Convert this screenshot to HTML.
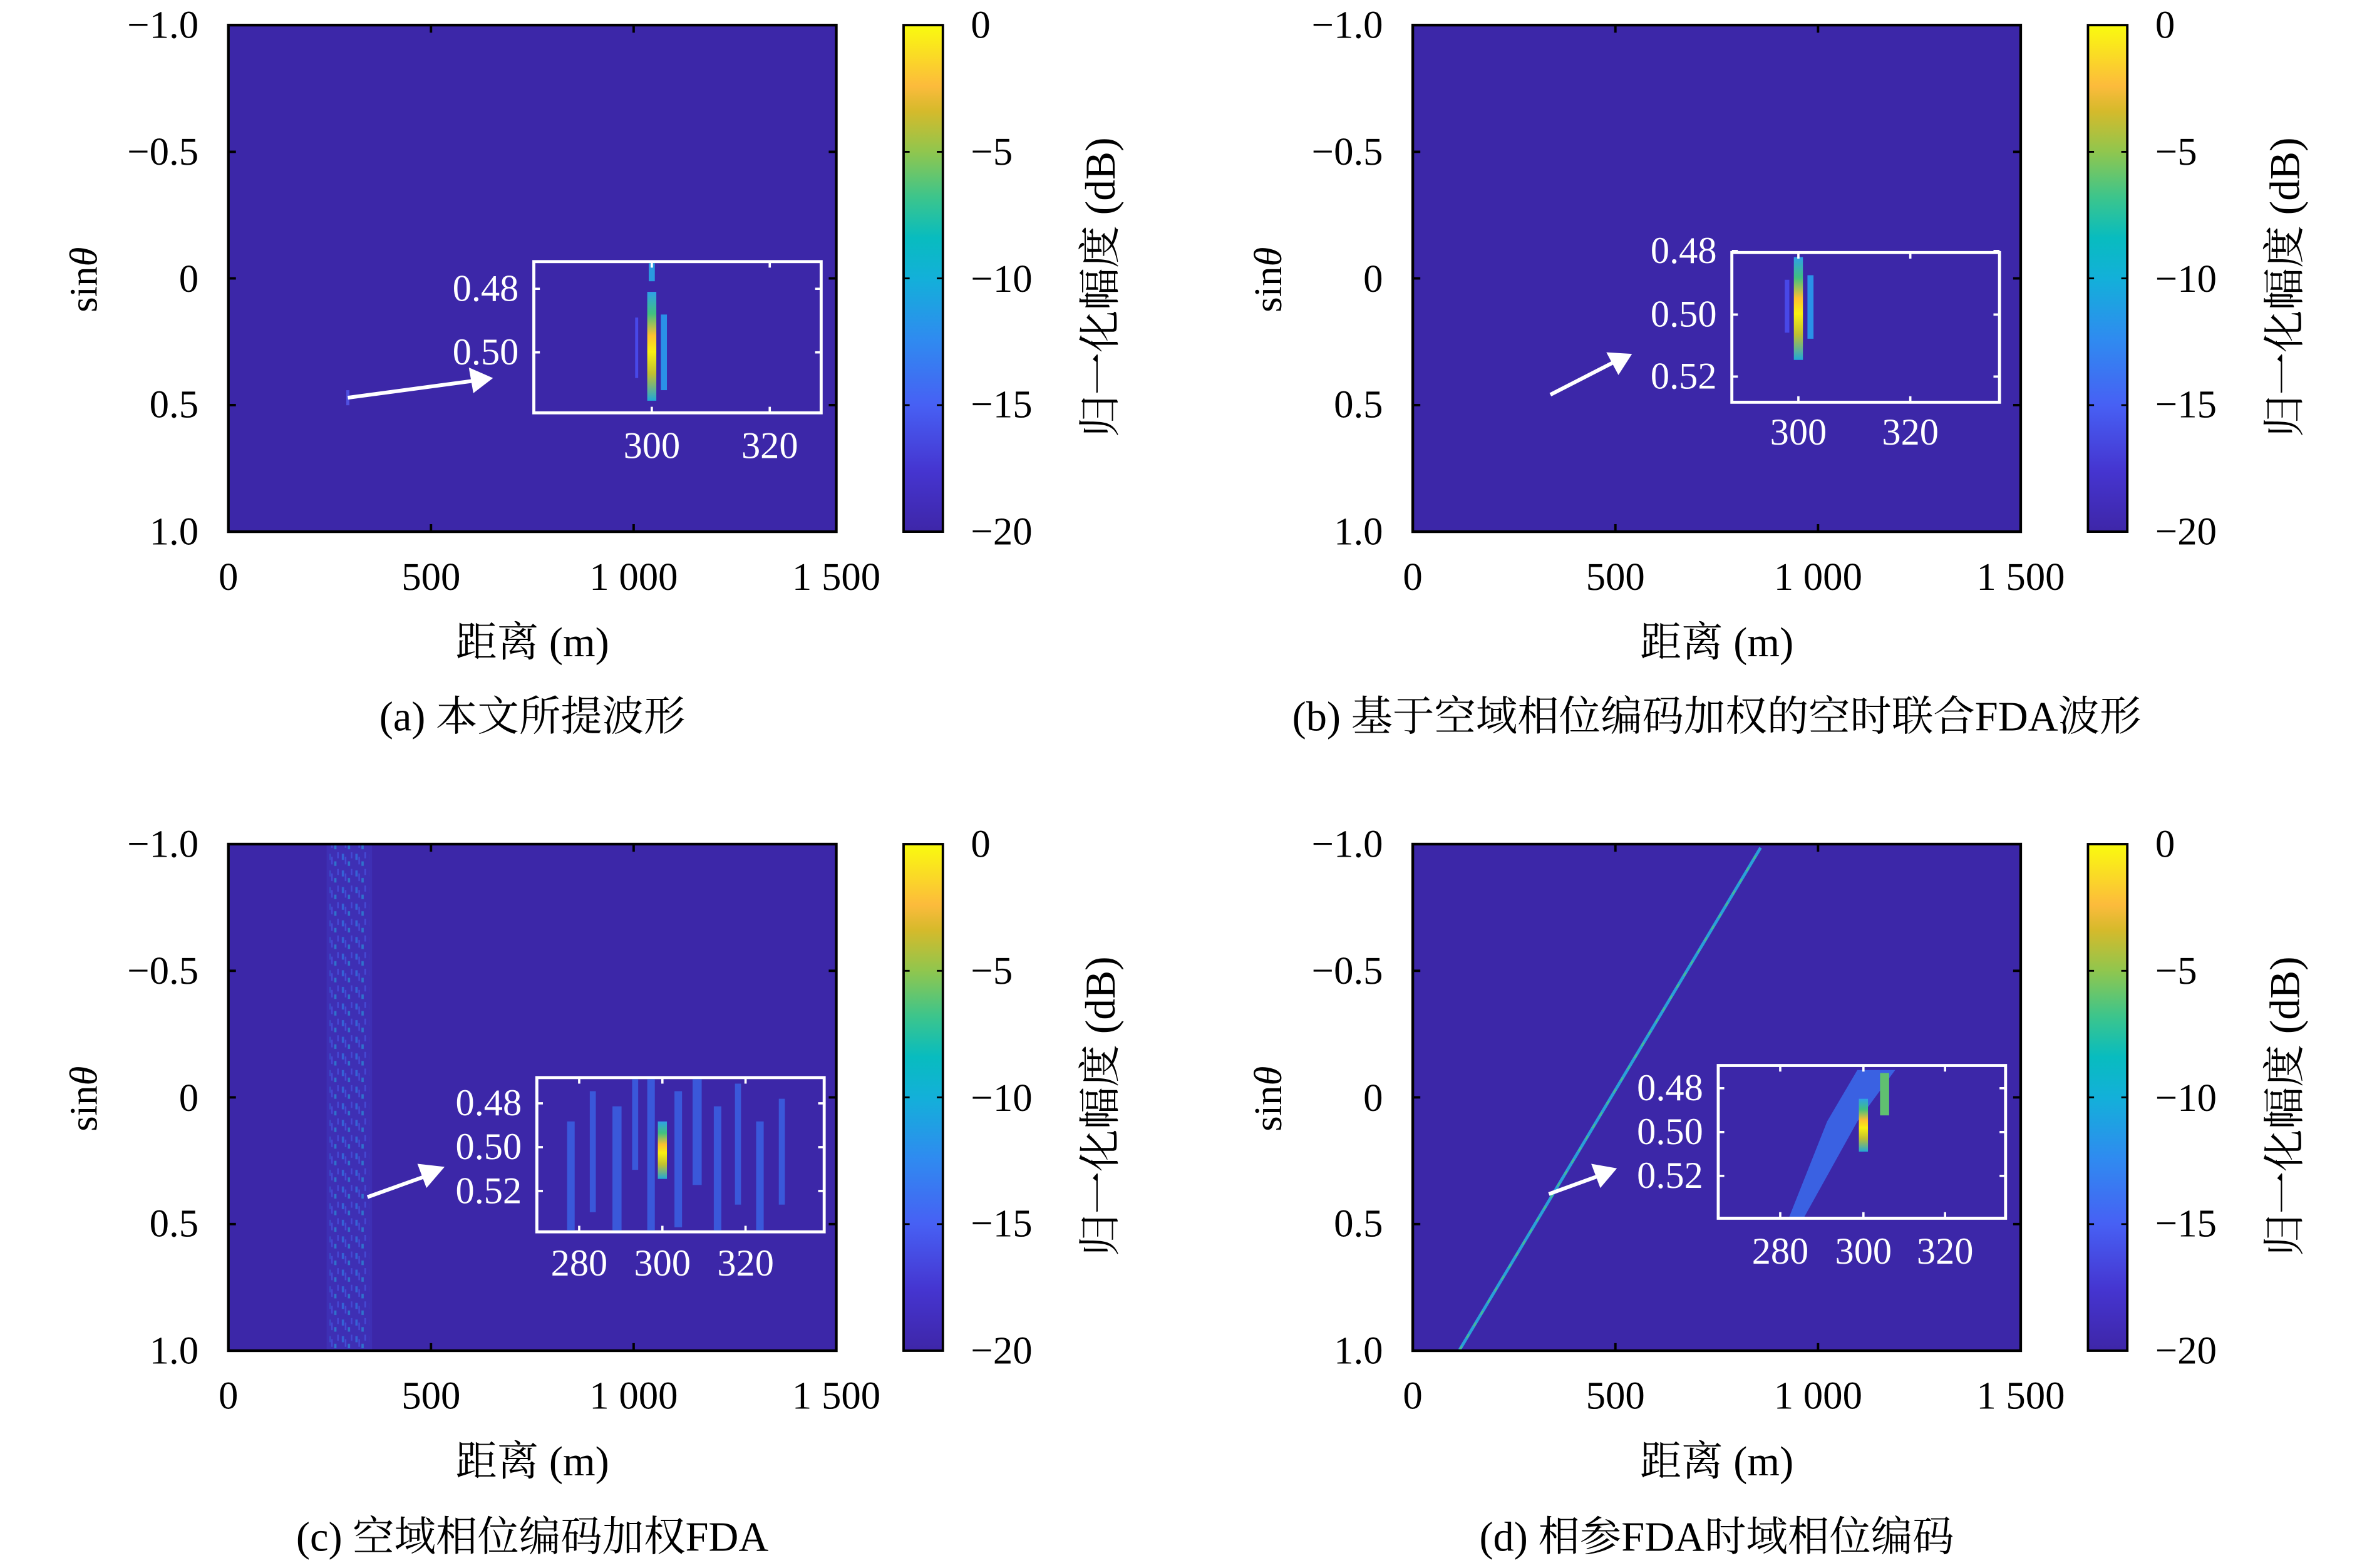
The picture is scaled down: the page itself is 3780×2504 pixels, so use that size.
<!DOCTYPE html>
<html><head><meta charset="utf-8">
<style>html,body{margin:0;padding:0;background:#fff}svg{display:block}
text{font-family:"Liberation Serif","Noto Serif CJK SC",serif;font-size:26px;fill:#000}
.w{fill:#fff;font-size:25px}
.cap{font-size:27.5px}
</style></head><body>
<svg width="3780" height="2504" viewBox="0 0 1565.2 1036.9" preserveAspectRatio="none" xmlns="http://www.w3.org/2000/svg">
<defs>
<linearGradient id="cb" x1="0" y1="1" x2="0" y2="0">
<stop offset="0" stop-color="#3e26a8"/>
<stop offset="0.12" stop-color="#4535d0"/>
<stop offset="0.25" stop-color="#4760f4"/>
<stop offset="0.38" stop-color="#2f8bf0"/>
<stop offset="0.5" stop-color="#13b0d9"/>
<stop offset="0.58" stop-color="#08bcbf"/>
<stop offset="0.66" stop-color="#3cc58c"/>
<stop offset="0.75" stop-color="#90c64e"/>
<stop offset="0.83" stop-color="#d5ba2b"/>
<stop offset="0.88" stop-color="#fcbb3c"/>
<stop offset="1" stop-color="#f9fb0e"/>
</linearGradient>
<linearGradient id="pk" x1="0" y1="0" x2="0" y2="1">
<stop offset="0" stop-color="#2fa0e8"/><stop offset="0.2" stop-color="#40c080"/>
<stop offset="0.4" stop-color="#fcc030"/><stop offset="0.55" stop-color="#f9f010"/>
<stop offset="0.75" stop-color="#c0c030"/><stop offset="1" stop-color="#20a8d8"/>
</linearGradient>
<pattern id="spk" width="9" height="11" patternUnits="userSpaceOnUse">
<rect x="1" y="1" width="1.5" height="4" fill="#2c8ef0"/>
<rect x="5" y="6" width="1.5" height="3" fill="#22a8e0"/>
<rect x="3" y="3" width="1" height="5" fill="#4a60f0"/>
<rect x="7" y="0" width="1" height="4" fill="#4a60f0"/>
</pattern>
<g id="frame">
<rect x="151" y="16.6" width="402" height="335" fill="#3c27a8"/>
</g>
<g id="axes">
<rect x="151" y="16.6" width="402" height="335" fill="none" stroke="#000" stroke-width="1.8"/>
<path d="M285,16.6v5M419,16.6v5M285,351.6v-5M419,351.6v-5M151,100.4h5M151,184.1h5M151,267.9h5M553,100.4h-5M553,184.1h-5M553,267.9h-5" stroke="#000" stroke-width="1.6"/>
<rect x="597.5" y="16.6" width="26" height="335" fill="url(#cb)" stroke="#000" stroke-width="1.6"/>
<path d="M623.5,100.4h-4M623.5,184.1h-4M623.5,267.9h-4M597.5,100.4h4M597.5,184.1h4M597.5,267.9h4" stroke="#000" stroke-width="1.2"/>
<text x="131.3" y="25" text-anchor="end">−1.0</text>
<text x="131.3" y="109" text-anchor="end">−0.5</text>
<text x="131.3" y="193" text-anchor="end">0</text>
<text x="131.3" y="276" text-anchor="end">0.5</text>
<text x="131.3" y="360" text-anchor="end">1.0</text>
<text x="151" y="390" text-anchor="middle">0</text>
<text x="285" y="390" text-anchor="middle">500</text>
<text x="419" y="390" text-anchor="middle">1 000</text>
<text x="553" y="390" text-anchor="middle">1 500</text>
<text x="642" y="25">0</text>
<text x="642" y="109">−5</text>
<text x="642" y="193">−10</text>
<text x="642" y="276">−15</text>
<text x="642" y="360">−20</text>
<text x="352" y="434" text-anchor="middle" class="cap">距离 (m)</text>
<text transform="translate(64,185) rotate(-90)" text-anchor="middle">sin<tspan font-style="italic">θ</tspan></text>
<text transform="translate(737,190) rotate(-90)" text-anchor="middle" style="font-size:28px">归一化幅度 (dB)</text>
</g>
</defs>

<!-- (a) -->
<use href="#frame"/>
<rect x="229" y="258" width="2" height="10" fill="#5050e0"/>
<line x1="230" y1="263" x2="312" y2="252" stroke="#fff" stroke-width="2.5"/>
<polygon points="326,250 310,243 313,260" fill="#fff"/>
<rect x="353" y="173" width="190" height="100" fill="#3c27a8" stroke="#fff" stroke-width="2"/>
<rect x="429" y="174" width="4" height="12" fill="#2a9ae0"/>
<rect x="428" y="193" width="6" height="72" fill="url(#pk)"/>
<rect x="437" y="208" width="4" height="50" fill="#2a90e8"/>
<rect x="420" y="210" width="2" height="40" fill="#4848e8"/>
<path d="M353,191h4M353,233h4M543,191h-4M543,233h-4M431,273v-4M509,273v-4M431,173v4M509,173v4" stroke="#fff" stroke-width="1.5"/>
<text class="w" x="343" y="199" text-anchor="end">0.48</text>
<text class="w" x="343" y="241" text-anchor="end">0.50</text>
<text class="w" x="431" y="303" text-anchor="middle">300</text>
<text class="w" x="509" y="303" text-anchor="middle">320</text>
<use href="#axes"/>
<text x="352" y="483" text-anchor="middle" class="cap">(a) 本文所提波形</text>

<!-- (b) -->
<g transform="translate(783.2,0)">
<use href="#frame"/>
<line x1="242" y1="261" x2="283" y2="240" stroke="#fff" stroke-width="2.5"/>
<polygon points="296,234 279,233 287,248" fill="#fff"/>
<rect x="362" y="167" width="177" height="99" fill="#3c27a8" stroke="#fff" stroke-width="2"/>
<rect x="403" y="170" width="6" height="68" fill="url(#pk)"/>
<rect x="412" y="182" width="4" height="42" fill="#2a90e8"/>
<rect x="397" y="185" width="3" height="35" fill="#4848e8"/>
<path d="M362,166h4M362,208h4M362,249h4M539,166h-4M539,208h-4M539,249h-4M406,266v-4M480,266v-4M406,167v4M480,167v4" stroke="#fff" stroke-width="1.5"/>
<text class="w" x="352" y="174" text-anchor="end">0.48</text>
<text class="w" x="352" y="216" text-anchor="end">0.50</text>
<text class="w" x="352" y="257" text-anchor="end">0.52</text>
<text class="w" x="406" y="294" text-anchor="middle">300</text>
<text class="w" x="480" y="294" text-anchor="middle">320</text>
<use href="#axes"/>
<text x="352" y="483" text-anchor="middle" class="cap">(b) 基于空域相位编码加权的空时联合FDA波形</text>
</g>

<!-- (c) -->
<g transform="translate(0,541.6)">
<use href="#frame"/>
<rect x="216" y="17" width="30" height="334" fill="#4448d8" opacity="0.25"/>
<rect x="218" y="17" width="26" height="334" fill="url(#spk)" opacity="0.55"/>
<line x1="243" y1="250" x2="282" y2="236" stroke="#fff" stroke-width="2.5"/>
<polygon points="294,230 276,228 282,244" fill="#fff"/>
<rect x="355" y="171" width="190" height="102" fill="#3c27a8" stroke="#fff" stroke-width="2"/>
<g opacity="0.7" fill="#3a6ef0">
<rect x="375" y="200" width="5" height="72"/><rect x="390" y="180" width="4" height="80"/>
<rect x="405" y="190" width="6" height="82"/><rect x="418" y="172" width="4" height="60"/>
<rect x="428" y="172" width="5" height="100"/><rect x="446" y="180" width="5" height="90"/>
<rect x="458" y="172" width="6" height="70"/><rect x="472" y="190" width="5" height="82"/>
<rect x="486" y="175" width="4" height="80"/><rect x="500" y="200" width="5" height="72"/>
<rect x="515" y="185" width="4" height="70"/>
</g>
<rect x="435" y="200" width="6" height="38" fill="url(#pk)"/>
<path d="M355,188h4M355,217h4M355,246h4M545,188h-4M545,217h-4M545,246h-4M383,273v-4M438,273v-4M493,273v-4M383,171v4M438,171v4M493,171v4" stroke="#fff" stroke-width="1.5"/>
<text class="w" x="345" y="196" text-anchor="end">0.48</text>
<text class="w" x="345" y="225" text-anchor="end">0.50</text>
<text class="w" x="345" y="254" text-anchor="end">0.52</text>
<text class="w" x="383" y="302" text-anchor="middle">280</text>
<text class="w" x="438" y="302" text-anchor="middle">300</text>
<text class="w" x="493" y="302" text-anchor="middle">320</text>
<use href="#axes"/>
<text x="352" y="484" text-anchor="middle" class="cap">(c) 空域相位编码加权FDA</text>
</g>

<!-- (d) -->
<g transform="translate(783.2,541.6)">
<use href="#frame"/>
<line x1="182" y1="351" x2="381" y2="19" stroke="#2aa0d8" stroke-width="2"/>
<line x1="182" y1="351" x2="381" y2="19" stroke="#50c080" stroke-width="0.8" stroke-dasharray="3 6"/>
<line x1="241" y1="248" x2="274" y2="236" stroke="#fff" stroke-width="2.5"/>
<polygon points="286,231 269,228 275,244" fill="#fff"/>
<rect x="353" y="163" width="190" height="101" fill="#3c27a8" stroke="#fff" stroke-width="2"/>
<g fill="#3a70f0" opacity="0.8">
<polygon points="370,263 400,263 425,200 445,166 470,166 445,200 410,263"/>
</g>
<rect x="446" y="185" width="6" height="35" fill="url(#pk)"/>
<rect x="460" y="168" width="6" height="28" fill="#60c070"/>
<path d="M353,178h4M353,207h4M353,236h4M543,178h-4M543,207h-4M543,236h-4M394,264v-4M449,264v-4M503,264v-4M394,163v4M449,163v4M503,163v4" stroke="#fff" stroke-width="1.5"/>
<text class="w" x="343" y="186" text-anchor="end">0.48</text>
<text class="w" x="343" y="215" text-anchor="end">0.50</text>
<text class="w" x="343" y="244" text-anchor="end">0.52</text>
<text class="w" x="394" y="294" text-anchor="middle">280</text>
<text class="w" x="449" y="294" text-anchor="middle">300</text>
<text class="w" x="503" y="294" text-anchor="middle">320</text>
<use href="#axes"/>
<text x="352" y="484" text-anchor="middle" class="cap">(d) 相参FDA时域相位编码</text>
</g>
</svg>
</body></html>
